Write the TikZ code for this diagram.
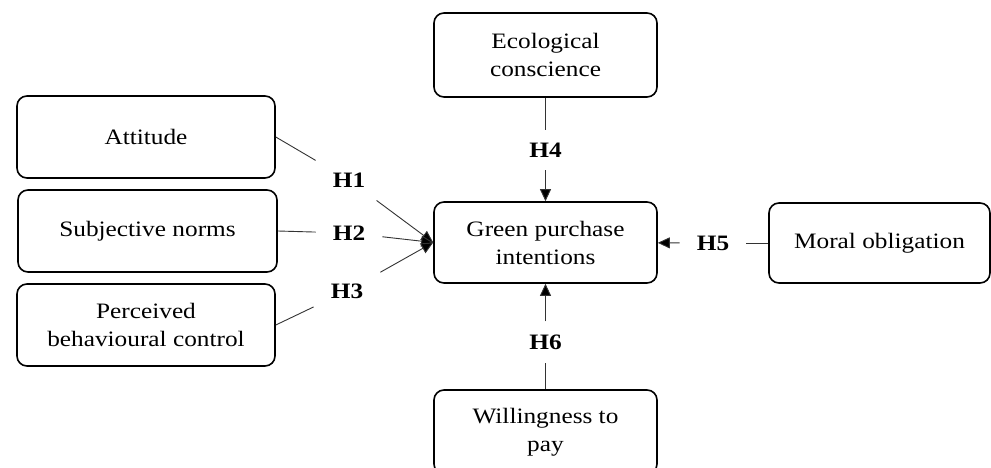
\documentclass[tikz,border=0pt]{standalone}
\usepackage{fontspec}
\setmainfont{Liberation Serif}[FakeStretch=1.15]
\usepackage{tikz}
\usetikzlibrary{arrows.meta}
\tikzset{factor/.style={draw,rounded corners=10pt,line width=1.6pt,align=center,
    font=\fontsize{22}{28}\selectfont,inner sep=0pt},
  hyp/.style={font=\fontsize{22}{28}\selectfont\bfseries,inner xsep=17pt,inner ysep=13pt},
  link/.style={line width=0.9pt,draw=black!80},
  tip/.style={-{Triangle[length=12pt,width=11pt]}}}

\begin{document}
\begin{tikzpicture}[x=1pt,y=-1pt]
\useasboundingbox (0,0) rectangle (991,468);
% \draw[help lines] (0,0) grid (991,468);
\node (att) [factor,minimum width=258pt,minimum height=82pt] at (146,137) {Attitude};
\node (sub) [factor,minimum width=259pt,minimum height=82pt] at (147.5,231) {Subjective norms};
\node (pbc) [factor,minimum width=258pt,minimum height=82pt] at (146,325) {Perceived\\behavioural control};
\node (eco) [factor,minimum width=223pt,minimum height=84pt] at (545.5,55) {Ecological\\conscience};
\node (gpi) [factor,minimum width=223pt,minimum height=81pt] at (545.5,242.5) {Green purchase\\intentions};
\node (mor) [factor,minimum width=221pt,minimum height=80pt] at (879.5,243) {Moral obligation};
\node (wtp) [factor,minimum width=223pt,minimum height=84pt] at (545.5,432) {Willingness to\\pay};
%
\node (h1) [hyp] at (349,180) {H1};
\node (h2) [hyp] at (349,233) {H2};
\node (h3) [hyp] at (347,291) {H3};
\node (h4) [hyp] at (545.5,150) {H4};
\node (h5) [hyp] at (713,243) {H5};
\node (h6) [hyp] at (545.5,342) {H6};
%
\path[link](att.east) edge (h1);
\path[link](sub.east) edge (h2);
\path[link](pbc.east) edge (h3);
\path[link,tip](h1) edge (gpi.west);
\path[link,tip](h2) edge (gpi.west);
\path[link,tip](h3) edge (gpi.west);
\path[link](eco) edge (h4);
\path[link,tip](h4) edge (gpi);
\path[link](mor) edge (h5);
\path[link,tip](h5) edge (gpi);
\path[link](wtp) edge (h6);
\path[link,tip](h6) edge (gpi);
\end{tikzpicture}
\end{document}
